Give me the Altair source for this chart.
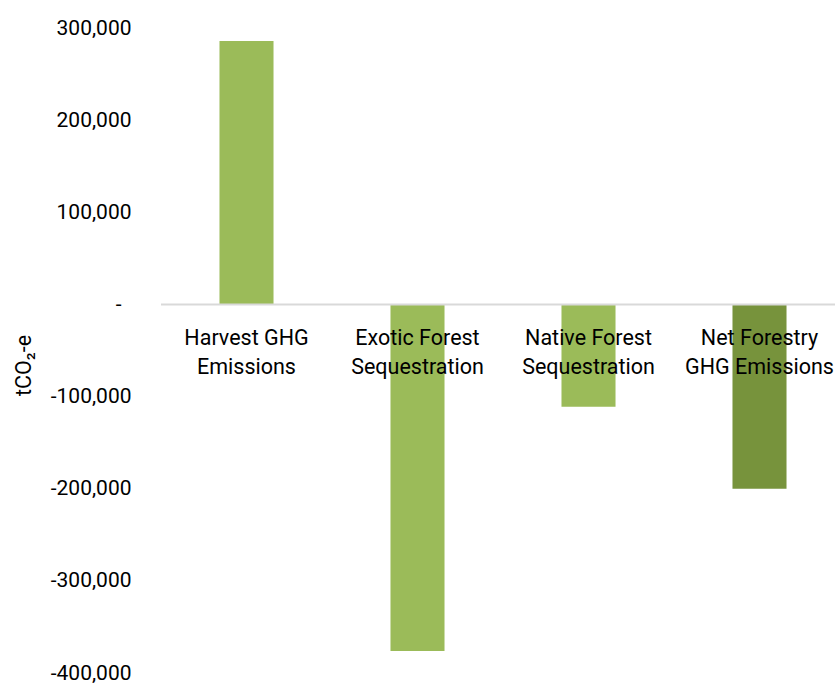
import altair as alt
import pandas as pd

categories = ["Harvest GHG Emissions", "Exotic Forest Sequestration",
              "Native Forest Sequestration", "Net Forestry GHG Emissions"]
labels = ["Harvest GHG\nEmissions", "Exotic Forest\nSequestration",
          "Native Forest\nSequestration", "Net Forestry\nGHG Emissions"]
values = [286000, -376000, -111000, -200000]
colors = ["#9BBB59", "#9BBB59", "#9BBB59", "#77933C"]
y_ticks = [300000, 200000, 100000, 0, -100000, -200000, -300000, -400000]

FONT = "Roboto"

df = pd.DataFrame({"cat": categories, "label": labels, "value": values, "color": colors})
zero = pd.DataFrame({"v": [0]})

x_enc = alt.X("cat:N", sort=categories, axis=None,
              scale=alt.Scale(range=[0, 684], paddingInner=0.684, paddingOuter=0.342))

bars = alt.Chart(df).mark_bar().encode(
    x=x_enc,
    y=alt.Y("value:Q",
            scale=alt.Scale(domain=[-400000, 300000], nice=False, zero=False),
            axis=alt.Axis(values=y_ticks,
                          labelExpr="datum.value == 0 ? '-' : (datum.value < 0 ? '-' : '') + format(abs(datum.value), ',')",
                          title="tCO\u2082-e",
                          grid=False, domain=False, ticks=False,
                          labelPadding={"condition": {"test": "datum.value == 0", "value": 40}, "value": 30},
                          labelFont=FONT, labelFontSize=21,
                          labelColor="#000000",
                          titleFont=FONT, titleFontSize=21.5, titleFontWeight="normal",
                          titleColor="#000000", titleAngle=270, titleAlign="center",
                          titleBaseline="middle", titleX=-137, titleY=337)),
    color=alt.Color("color:N", scale=None),
)

rule = alt.Chart(zero).mark_rule(color="#d9d9d9", strokeWidth=2).encode(
    y=alt.Y("v:Q")
)

text = alt.Chart(df).mark_text(baseline="top", align="center", lineBreak="\n",
                               font=FONT, fontSize=21.5, lineHeight=29,
                               color="#000000", dy=24).encode(
    x=x_enc,
    y=alt.datum(0),
    text="label:N",
)

chart = alt.layer(bars, rule, text).properties(
    width=674, height=645,
    autosize=alt.AutoSizeParams(type="none"),
    padding={"left": 161, "top": 28, "right": 0, "bottom": 11},
).configure_view(stroke=None)

chart.save("out.html", embed_options={"renderer": "svg", "actions": False})
